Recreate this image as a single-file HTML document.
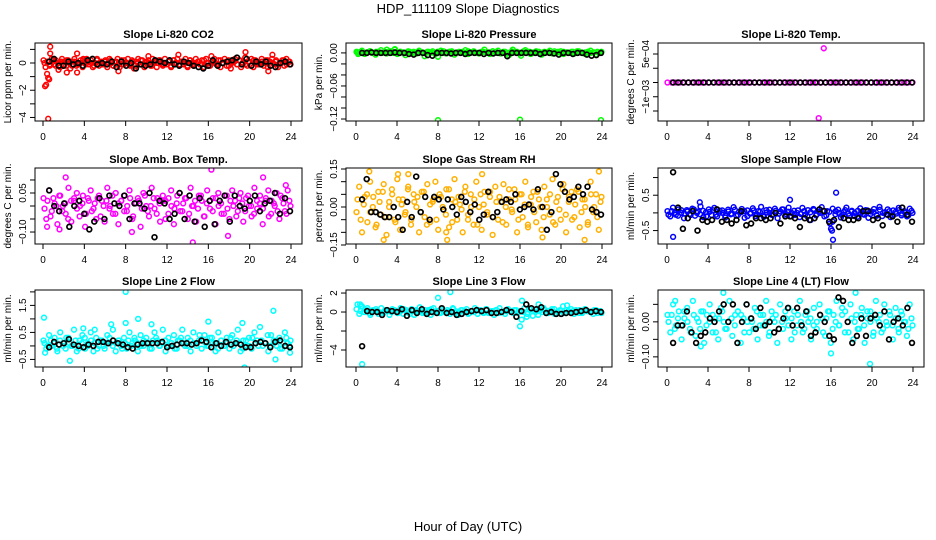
<!DOCTYPE html>
<html><head><meta charset="utf-8"><title>HDP_111109 Slope Diagnostics</title>
<style>
html,body{margin:0;padding:0;background:#fff;}
svg{display:block;font-family:"Liberation Sans",Arial,sans-serif;}
</style></head>
<body>
<svg id="chart" width="936" height="540" viewBox="0 0 936 540" xmlns="http://www.w3.org/2000/svg">
<text x="468" y="13" font-size="13" text-anchor="middle">HDP_111109  Slope Diagnostics</text>
<text x="468" y="531" font-size="13" text-anchor="middle">Hour of Day (UTC)</text>
</svg>
<script>
const xTicks=[0,4,8,12,16,20,24];

const co2Band=[0.2,-0.3,0.1,-0.2,0.3,-0.1,0.2,0.0,-0.3,0.3,0.1,-0.2,0.2,-0.4,0.1,0.3,-0.2,0.0,0.2,-0.3,0.1,0.3,-0.1,0.2,-0.3,0.0,0.3,-0.2,0.1,-0.1,0.2,-0.3,0.3,0.0,-0.2,0.1,0.3,-0.3,0.2,-0.1,0.0,0.3,-0.2,0.2,-0.4,0.1,0.3,-0.1,0.2,-0.3,0.0,0.2,-0.2,0.3,0.1,-0.3,0.2,0.0,-0.2,0.3,-0.1,0.1,-0.3,0.2,0.0,0.3,-0.2,0.1,-0.1,0.3,-0.3,0.2,0.0,-0.2,0.3,0.1,-0.1,0.2,-0.3,0.3,0.0,-0.2,0.1,0.3,-0.1,0.2,-0.3,0.0,0.3,-0.2,0.2,-0.4,0.1,0.3,-0.1,0.2,-0.3,0.0,0.4,-0.2,0.1,0.3,-0.3,0.2,-0.1,0.0,0.3,-0.2,0.2,-0.3,0.1,0.3,-0.1,0.2,-0.3,0.0,0.2,-0.2,0.3,0.1,-0.1];
const co2Band2=[0.0,0.1,-0.1,0.2,-0.2,0.0,0.1,-0.1,0.2,0.0,-0.2,0.1,-0.1,0.0,0.2,-0.1,0.1,0.0,-0.2,0.2,0.0,-0.1,0.1,0.0,0.2,-0.2,0.1,0.0,-0.1,0.2,0.0,-0.1,0.1,-0.2,0.0,0.2,-0.1,0.1,0.0,-0.2,0.1,0.0,0.2,-0.1,0.0,0.1,-0.2,0.2,0.0,-0.1,0.1,0.0,-0.2,0.2,-0.1,0.0,0.1,-0.1,0.2,0.0,-0.2,0.1,0.0,-0.1,0.2,0.0,0.1,-0.2,0.0,0.1,-0.1,0.2,0.0,-0.1,0.1,-0.2,0.2,0.0,-0.1,0.1,0.0,0.2,-0.2,0.0,0.1,-0.1,0.0,0.2,-0.1,0.1];
const co2Black=[0.1,0.3,-0.2,-0.2,0.1,-0.1,0.0,-0.2,0.2,0.3,-0.1,0.0,-0.1,0.1,-0.3,0.1,-0.2,0.0,-0.4,-0.1,-0.2,-0.1,0.2,0.1,0.0,0.2,-0.1,-0.2,0.1,0.0,-0.2,-0.3,-0.4,-0.2,0.2,-0.2,0.0,0.1,0.2,0.4,-0.1,0.3,-0.2,0.1,-0.1,0.1,-0.2,-0.3,0.0,0.1,-0.1];
const co2OutHours=[0.2,0.3,0.4,0.5,0.6,0.7,0.7,0.5,3.3,3.3,2.3,7.3,10.2,19.6,22.2,16.3,21.8,1.5,3.9,13.1];
const co2OutVals=[-1.7,-1.6,-0.8,-1.1,-1.2,1.2,0.7,-4.1,0.7,-0.7,-0.7,-0.6,0.5,0.8,0.6,0.5,-0.6,-0.5,0.3,0.6];

const presBand=[0.002,0.000,0.004,-0.002,0.001,0.003,0.000,-0.003,0.002,0.005,0.001,-0.001,0.003,0.000,0.006,-0.002,0.002,0.001,-0.004,0.003,0.000,0.002,-0.001,0.004,0.001,-0.006,0.002,0.000,0.003,-0.002,0.001,0.004,0.000,-0.001,0.002,0.003,-0.003,0.001,0.000,0.002,0.005,-0.002,0.001,0.003,0.000,-0.001,0.002,0.006,0.001,-0.002,0.003,0.000,0.004,-0.001,0.002,0.000,-0.004,0.003,0.001,0.002,-0.001,0.000,0.005,0.002,-0.002,0.001,0.003,0.000,-0.003,0.002,0.001,0.004,-0.001,0.000,0.002,0.003,-0.002,0.001,0.000,0.002,-0.001,0.003,0.001,0.000,-0.002,0.002,0.004,0.001,-0.003,0.000,0.002];
const presBand2=[0.001,0.002,0.000,0.001,0.003,0.000,0.002,0.001,0.000,0.002,0.001,0.003,0.000,0.001,0.002,0.000,0.001,0.002,0.000,0.001,0.003,0.001,0.000,0.002,0.001,0.000,0.002,0.001,0.003,0.000,0.002,0.001,0.000,0.002,0.001,0.000,0.003,0.001,0.002,0.000,0.001,0.002,0.000,0.001,0.003,0.002,0.000,0.001,0.002,0.000,0.001,0.002,0.001,0.000,0.003,0.001,0.002,0.000,0.001,0.002,0.000,0.001,0.002,0.000,0.003,0.001,0.000,0.002,0.001,0.000,0.002,0.001,0.003,0.000,0.001,0.002,0.000,0.001,0.002,0.001];
const presBlack=[0.000,0.000,0.001,0.000,0.000,0.000,0.000,0.001,0.000,0.000,-0.002,-0.003,0.000,0.000,-0.004,-0.005,0.000,0.000,0.000,-0.001,0.000,0.000,-0.002,0.000,0.000,0.000,-0.002,0.000,-0.001,0.000,0.000,-0.006,0.000,0.000,0.000,0.000,0.000,0.000,-0.002,0.000,0.000,-0.001,-0.003,0.000,0.000,-0.002,0.000,0.000,-0.003,-0.005,-0.004,0.000];
const presOutHours=[8.0,16.0,23.9,8.0,16.1,0.2,3.0,3.8,15.3];
const presOutVals=[-0.122,-0.121,-0.122,-0.007,-0.005,-0.002,0.006,0.007,0.006];

const tempBand=[-0.0005,-0.0005,-0.0005,-0.0005,-0.0005,-0.0005,-0.0005,-0.0005,-0.0005,-0.0005,-0.0005,-0.0005,-0.0005,-0.0005,-0.0005,-0.0005,-0.0005,-0.0005,-0.0005,-0.0005,-0.0005,-0.0005,-0.0005,-0.0005,-0.0005,-0.0005,-0.0005,-0.0005,-0.0005,-0.0005,-0.0005,-0.0005,-0.0005,-0.0005,-0.0005,-0.0005,-0.0005,-0.0005,-0.0005,-0.0005,-0.0005,-0.0005,-0.0005,-0.0005,-0.0005,-0.0005,-0.0005,-0.0005,-0.0005,-0.0005,-0.0005,-0.0005,-0.0005,-0.0005,-0.0005,-0.0005,-0.0005,-0.0005,-0.0005,-0.0005];
const tempBand2=[];
const tempBlack=[-0.0005,-0.0005,-0.0005,-0.0005,-0.0005,-0.0005,-0.0005,-0.0005,-0.0005,-0.0005,-0.0005,-0.0005,-0.0005,-0.0005,-0.0005,-0.0005,-0.0005,-0.0005,-0.0005,-0.0005,-0.0005,-0.0005,-0.0005,-0.0005,-0.0005,-0.0005,-0.0005,-0.0005,-0.0005,-0.0005,-0.0005,-0.0005,-0.0005,-0.0005,-0.0005,-0.0005,-0.0005,-0.0005,-0.0005,-0.0005,-0.0005,-0.0005,-0.0005,-0.0005,-0.0005,-0.0005,-0.0005,-0.0005];
const tempOutHours=[15.3,14.8];
const tempOutVals=[0.0007,-0.00175];

const ambBand=[0.03,-0.05,0.06,-0.02,0.01,-0.07,0.04,0.00,-0.03,0.07,-0.06,0.02,0.05,-0.04,0.01,-0.08,0.03,0.06,-0.01,-0.05,0.04,0.02,-0.06,0.07,0.00,-0.03,0.05,-0.07,0.02,0.04,-0.02,0.06,-0.05,0.01,0.03,-0.08,0.05,0.00,-0.04,0.07,-0.01,0.03,-0.06,0.04,0.02,-0.03,0.06,-0.07,0.01,0.05,-0.02,0.03,-0.05,0.07,0.00,-0.06,0.04,0.02,-0.04,0.06,-0.01,0.03,-0.07,0.05,0.01,-0.03,0.04,-0.05,0.06,0.02,-0.02,0.05,-0.06,0.03,0.00,-0.04,0.07,-0.01,0.04,-0.07,0.02,0.06,-0.03,0.01,0.05,-0.05,0.03,-0.02,0.06,0.00];
const ambBand2=[-0.01,0.02,-0.04,0.03,0.00,0.04,-0.02,0.01,-0.05,0.02,0.03,-0.01,0.00,0.04,-0.03,0.02,-0.02,0.01,0.03,-0.04,0.00,0.02,-0.01,0.04,-0.03,0.01,0.02,-0.02,0.00,0.03,-0.04,0.01,0.02,-0.01,0.04,-0.02,0.00,0.03,-0.03,0.01,0.02,-0.05,0.03,0.00,-0.01,0.04,-0.02,0.01,0.03,-0.03,0.00,0.02,-0.01,0.04,-0.04,0.01,0.02,-0.02,0.03,0.00,-0.03,0.04,-0.01,0.02,0.00,-0.04,0.03,0.01,-0.02,0.04,0.00,-0.03,0.02,0.01,-0.01,0.03,-0.04,0.02,0.00,-0.02,0.04,0.01,-0.03,0.02];
const ambBlack=[0.06,0.00,-0.02,0.01,-0.08,0.00,0.02,-0.03,-0.09,-0.06,0.03,-0.05,0.04,0.01,0.00,0.04,-0.05,0.01,0.01,-0.01,0.05,-0.12,0.02,0.01,-0.05,-0.03,0.05,-0.05,0.04,-0.06,0.03,-0.08,0.02,-0.07,0.02,0.04,-0.06,0.04,0.00,-0.01,0.02,0.04,-0.02,0.01,0.02,0.05,-0.03,0.03,-0.02];
const ambOutHours=[16.3,14.5,21.3,2.2,8.6,17.9,0.4,1.6,23.5];
const ambOutVals=[0.14,-0.14,0.11,0.11,-0.10,-0.115,-0.08,-0.09,0.08];

const rhBand=[-0.02,0.08,-0.1,0.04,-0.06,0.1,0.0,-0.08,0.06,-0.03,0.09,-0.11,0.02,0.07,-0.05,0.11,-0.09,0.03,-0.02,0.08,-0.07,0.05,0.0,-0.1,0.06,-0.04,0.09,-0.06,0.02,0.1,-0.09,0.04,-0.01,0.07,-0.08,0.03,0.11,-0.05,0.01,-0.1,0.08,-0.03,0.05,-0.07,0.1,0.0,-0.09,0.06,-0.02,0.04,-0.11,0.08,-0.05,0.02,0.09,-0.07,0.03,-0.01,0.07,-0.1,0.05,-0.04,0.1,-0.08,0.01,0.06,-0.06,0.03,-0.09,0.08,0.0,-0.03,0.11,-0.07,0.04,-0.05,0.09,-0.1,0.02,0.06,-0.04,0.07,-0.08,0.03,0.0,-0.06,0.1,-0.02,0.05,-0.09,0.04];
const rhBand2=[0.03,-0.05,0.01,0.05,-0.02,0.04,-0.07,0.02,0.06,-0.04,0.0,0.05,-0.06,0.03,0.01,-0.03,0.07,-0.05,0.02,0.04,-0.02,0.06,-0.07,0.01,0.03,-0.05,0.05,0.0,-0.03,0.07,-0.06,0.02,0.04,-0.01,0.06,-0.05,0.0,0.03,-0.07,0.05,0.01,-0.03,0.06,-0.04,0.02,0.04,-0.06,0.0,0.07,-0.02,0.03,-0.05,0.05,0.01,-0.07,0.04,-0.02,0.06,0.0,-0.04,0.03,0.05,-0.06,0.02,-0.01,0.07,-0.03,0.04,-0.05,0.01,0.06,-0.02,0.03,-0.07,0.05,0.0,-0.04,0.02];
const rhBlack=[0.03,0.11,-0.02,-0.02,-0.03,-0.04,-0.04,0.00,-0.04,-0.09,0.02,-0.04,0.12,-0.02,0.04,-0.05,0.04,0.03,-0.01,0.03,0.00,-0.03,0.04,0.02,-0.02,0.01,-0.05,-0.03,0.06,-0.04,-0.02,0.02,0.03,0.02,0.05,-0.01,0.00,0.01,-0.01,0.07,0.00,-0.09,-0.02,0.13,0.09,0.06,0.03,0.04,0.08,0.05,0.08,-0.01,-0.02,-0.03];
const rhOutHours=[1.3,4.1,5.1,2.7,8.8,8.9,18.2,22.3,23.7,12.3];
const rhOutVals=[0.14,0.13,0.13,-0.13,-0.10,-0.13,-0.12,-0.13,0.14,0.13];

const flowBand=[0.05,-0.1,0.15,-0.05,0.1,0.0,-0.15,0.08,-0.03,0.12,-0.08,0.04,0.18,-0.12,0.02,0.1,-0.06,0.14,-0.1,0.06,0.0,-0.13,0.09,-0.04,0.16,-0.08,0.03,0.11,-0.14,0.07,-0.02,0.13,-0.09,0.05,0.17,-0.11,0.01,0.09,-0.06,0.12,-0.15,0.04,0.1,-0.03,0.15,-0.1,0.06,0.0,-0.12,0.14,-0.05,0.08,-0.2,0.11,-0.07,0.03,0.16,-0.1,0.05,-0.3,0.12,-0.04,0.09,-0.13,0.02,0.15,-0.08,0.06,0.0,-0.11,0.13,-0.03,0.08,-0.14,0.04,0.11,-0.06,0.17,-0.09,0.02,0.1,-0.12,0.07,-0.02,0.14,-0.07,0.05,-0.1,0.12,0.0];
const flowBand2=[-0.05,0.05,0.0,-0.08,0.08,-0.02,0.04,-0.06,0.1,0.0,-0.04,0.06,-0.1,0.03,0.08,-0.05,0.0,0.07,-0.08,0.04,-0.02,0.09,-0.06,0.02,0.05,-0.09,0.0,0.07,-0.04,0.03,-0.07,0.08,0.0,-0.05,0.06,-0.02,0.1,-0.08,0.03,0.0,-0.06,0.07,-0.03,0.05,-0.1,0.02,0.08,-0.04,0.0,0.06,-0.07,0.03,-0.25,0.05,0.0,-0.06,0.08,-0.02,0.04,-0.09,0.06,0.0,-0.05,0.07,-0.03,0.02,-0.08,0.09,0.0,-0.04,0.05,-0.06,0.03,0.08,-0.02,0.0,-0.07,0.06];
const flowBlack=[1.15,0.15,-0.45,-0.15,0.05,-0.5,-0.2,-0.25,-0.2,0.1,-0.25,-0.2,-0.3,-0.2,0.05,-0.35,-0.3,-0.15,-0.15,-0.2,-0.15,0.0,-0.3,-0.1,-0.1,-0.15,-0.4,-0.15,-0.2,-0.15,0.1,0.05,-0.25,-0.2,-0.4,-0.15,-0.2,-0.2,-0.15,0.05,0.05,-0.2,-0.15,-0.35,-0.05,-0.1,-0.25,0.15,-0.05,-0.25];
const flowOutHours=[0.6,16.2,16.5,12.0,3.2,16.0,16.1];
const flowOutVals=[-0.68,-0.76,0.57,0.37,0.3,-0.45,-0.5];

const l2Band=[0.2,-0.1,0.4,0.0,0.3,-0.2,0.5,0.1,-0.1,0.3,0.0,0.6,-0.2,0.2,0.4,-0.1,0.1,0.5,-0.2,0.3,0.0,0.2,-0.1,0.4,0.1,0.6,-0.2,0.2,0.0,0.3,-0.1,0.5,0.1,0.2,-0.2,0.4,0.0,0.3,0.1,-0.1,0.5,0.2,0.0,0.6,-0.2,0.3,0.1,0.4,-0.1,0.2,0.6,0.0,0.3,-0.2,0.5,0.1,0.2,-0.1,0.4,0.0,0.3,0.1,-0.2,0.5,0.2,0.0,0.3,-0.1,0.4,0.1,0.6,-0.2,0.2,0.0,0.3,-0.1,0.5,0.2,0.7,0.0,0.1,-0.2,0.4,0.2,0.0,0.3,-0.1,0.5,0.1,0.2];
const l2Band2=[0.1,0.0,0.2,0.1,-0.1,0.2,0.0,0.3,0.1,0.0,0.2,-0.1,0.1,0.3,0.0,0.2,0.1,-0.1,0.2,0.0,0.1,0.3,0.0,0.1,0.2,-0.1,0.1,0.2,0.0,0.3,0.1,0.0,0.2,0.1,-0.1,0.2,0.3,0.0,0.1,0.2,0.0,0.1,-0.1,0.2,0.3,0.1,0.0,0.2,0.1,0.0,0.4,0.2,0.1,0.0,0.3,0.1,-0.1,0.2,0.0,0.1,0.3,0.0,0.2,0.1,-0.1,0.2,0.0,0.3,0.1,0.0,0.2,0.1,0.4,0.0,0.1,0.2,-0.1,0.1,0.3,0.0];
const l2Black=[-0.05,0.15,0.05,0.1,0.25,0.05,0.0,-0.05,0.05,0.0,0.15,0.15,0.1,0.2,0.1,0.05,-0.05,-0.1,0.05,0.1,0.1,0.1,0.1,0.15,-0.05,0.0,0.05,0.1,0.1,0.05,0.1,0.2,0.15,-0.05,0.1,0.0,0.15,0.05,0.1,0.05,-0.05,-0.05,0.1,0.15,0.1,-0.05,0.15,0.2,0.0,-0.05];
const l2OutHours=[0.1,8.0,8.0,9.2,16.0,22.3,19.5,2.6,22.5,10.5,5.0,6.6,3.9,19.3,0.2,23.9];
const l2OutVals=[1.05,2.0,0.85,1.0,0.9,1.3,-0.8,-0.55,-0.5,0.8,0.6,0.8,0.65,0.85,-0.25,-0.25];

const l3Band=[0.3,-0.2,0.6,0.0,0.4,-0.3,0.2,0.1,-0.2,0.4,0.0,0.2,-0.3,0.3,0.1,-0.1,0.4,-0.2,0.2,0.0,0.3,-0.3,0.1,0.5,-0.1,0.2,0.0,-0.3,0.4,0.1,-0.1,0.3,0.0,0.2,-0.2,0.4,0.1,-0.3,0.2,0.0,0.3,-0.1,0.1,0.4,-0.2,0.2,0.0,0.3,-0.1,0.1,-0.3,0.2,0.4,0.0,-0.2,0.3,0.1,-0.1,0.2,0.0,-0.8,0.4,-0.2,0.3,0.1,0.0,-0.3,0.2,0.4,-0.1,0.1,0.3,-0.2,0.0,0.2,0.6,-0.1,0.1,0.3,-0.2,0.0,0.2,-0.1,0.3,0.1,0.0,-0.2,0.2,0.1,-0.1];
const l3Band2=[0.8,0.1,0.0,0.2,-0.1,0.1,0.3,0.0,-0.1,0.2,0.1,0.0,0.2,-0.1,0.1,0.3,0.0,-0.2,0.1,0.2,0.0,0.1,-0.1,0.2,0.3,0.0,0.1,-0.1,0.2,0.0,0.1,0.3,-0.1,0.0,0.2,0.1,-0.2,0.1,0.0,0.2,0.1,-0.1,0.3,0.0,0.1,0.2,-0.1,0.0,0.1,0.3,0.0,0.2,-0.1,0.1,0.0,-0.5,0.3,-0.4,0.2,0.1,0.0,0.2,-0.1,0.1,0.3,0.0,0.1,-0.1,0.2,0.0,0.1,0.2,-0.1,0.0,0.3,0.1,0.0,0.2,-0.1,0.1];
const l3Black=[-3.6,0.1,0.0,0.0,-0.3,0.2,0.1,0.0,0.3,-0.4,0.2,-0.1,0.3,-0.2,0.0,-0.1,0.4,-0.1,0.0,-0.3,-0.2,0.0,0.1,0.2,0.1,0.2,-0.1,-0.1,0.0,0.2,0.0,-0.5,0.1,0.8,0.4,0.3,0.5,-0.1,0.0,-0.2,-0.2,-0.1,-0.1,0.0,0.1,0.2,0.0,0.1,0.0];
const l3OutHours=[0.6,8.0,9.2,16.0,16.2,0.4,0.5,17.8,20.6];
const l3OutVals=[-5.5,1.5,2.1,-1.5,1.2,0.8,0.6,0.8,0.7];

const l4Band=[0.02,-0.03,0.05,-0.01,0.03,-0.05,0.01,0.04,-0.02,0.06,-0.04,0.00,0.03,-0.06,0.02,0.05,-0.03,0.01,-0.05,0.04,0.00,-0.02,0.06,-0.04,0.02,0.03,-0.06,0.01,0.05,-0.03,0.00,0.04,-0.05,0.02,-0.01,0.06,-0.04,0.03,0.00,-0.06,0.05,-0.02,0.01,0.04,-0.05,0.03,-0.01,0.06,-0.03,0.02,0.00,-0.05,0.04,-0.02,0.05,0.01,-0.04,0.03,-0.06,0.02,0.06,-0.01,0.04,-0.03,0.00,0.05,-0.05,0.02,-0.02,0.04,-0.06,0.01,0.03,-0.04,0.06,0.00,-0.03,0.05,-0.01,0.02,-0.05,0.04,-0.02,0.03,0.00,-0.04,0.05,-0.01];
const l4Band2=[0.00,0.02,-0.02,0.01,-0.01,0.03,0.00,-0.03,0.02,0.01,-0.02,0.03,-0.01,0.00,0.02,-0.03,0.01,0.03,-0.02,0.00,0.01,-0.01,0.03,0.02,-0.03,0.00,0.01,-0.02,0.03,-0.01,0.02,0.00,-0.03,0.01,0.02,-0.02,0.00,0.03,-0.01,0.01,-0.03,0.02,0.00,-0.02,0.03,0.01,-0.01,0.00,0.02,-0.03,0.01,0.03,-0.02,0.00,-0.01,0.02,0.03,-0.03,0.01,0.00,-0.02,0.02,-0.01,0.03,0.00,-0.03,0.01,0.02,-0.02,0.00,0.03,-0.01,0.01,-0.03,0.02,0.00,-0.02,0.01];
const l4Black=[-0.06,-0.01,-0.01,0.03,-0.03,-0.06,-0.04,-0.03,0.01,0.00,0.03,0.05,0.00,0.05,-0.06,0.00,0.05,0.01,-0.02,0.04,-0.01,0.00,-0.03,-0.02,0.01,0.04,-0.01,0.04,-0.01,0.03,-0.04,-0.03,0.02,0.00,-0.04,-0.05,0.07,0.06,0.00,-0.06,-0.04,0.01,-0.04,0.01,0.02,-0.01,0.03,-0.05,0.00,0.01,-0.01,0.04,-0.06];
const l4OutHours=[5.5,18.4,19.8,16.0,3.3,0.8];
const l4OutVals=[0.083,0.083,-0.12,-0.09,-0.07,0.06];

/* layout (not data) */
const colBox=[{L:35,R:302,x0:43,x1:291},{L:346,R:612,x0:356,x1:602},{L:658,R:924,x0:667,x1:913}];
const rowBox=[{T:43,B:121},{T:168,B:244},{T:290,B:367}];

const panels=[
 {name:'co2',title:'Slope Li-820 CO2',ylab:'Licor ppm per min.',col:'#ff0000',ylim:[-4.26,1.47],ticks:[-4,-3,-2,-1,0,1],labels:['\u22124','','\u22122','','0',''],band:co2Band,band2:co2Band2,black:co2Black,oh:co2OutHours,ov:co2OutVals},
 {name:'pressure',title:'Slope Li-820 Pressure',ylab:'kPa per min.',col:'#00ff00',ylim:[-0.1236,0.018],ticks:[0,-0.02,-0.04,-0.06,-0.08,-0.10,-0.12],labels:['0.00','','','\u22120.06','','','\u22120.12'],band:presBand,band2:presBand2,black:presBlack,oh:presOutHours,ov:presOutVals},
 {name:'temp',title:'Slope Li-820 Temp.',ylab:'degrees C per min.',col:'#ff00ff',ylim:[-0.001851,0.000886],ticks:[0.0005,0,-0.0005,-0.001,-0.0015],labels:['5e\u221204','','','\u22121e\u221203',''],band:tempBand,band2:tempBand2,black:tempBlack,oh:tempOutHours,ov:tempOutVals},
 {name:'amb-box-temp',title:'Slope Amb. Box Temp.',ylab:'degrees C per min.',col:'#ff00ff',ylim:[-0.146,0.146],ticks:[0.10,0.05,0,-0.05,-0.10],labels:['','0.05','','','\u22120.10'],band:ambBand,band2:ambBand2,black:ambBlack,oh:ambOutHours,ov:ambOutVals},
 {name:'gas-stream-rh',title:'Slope Gas Stream RH',ylab:'percent per min.',col:'#ffb000',ylim:[-0.146,0.154],ticks:[0.15,0.10,0.05,0,-0.05,-0.10,-0.15],labels:['0.15','','','0.00','','','\u22120.15'],band:rhBand,band2:rhBand2,black:rhBlack,oh:rhOutHours,ov:rhOutVals},
 {name:'sample-flow',title:'Slope Sample Flow',ylab:'ml/min per min.',col:'#0000ff',ylim:[-0.88,1.27],ticks:[1.0,0.5,0,-0.5],labels:['','0.5','','\u22120.5'],band:flowBand,band2:flowBand2,black:flowBlack,oh:flowOutHours,ov:flowOutVals},
 {name:'line2-flow',title:'Slope Line 2 Flow',ylab:'ml/min per min.',col:'#00ffff',ylim:[-0.78,2.07],ticks:[2,1.5,1,0.5,0,-0.5],labels:['','1.5','','0.5','','\u22120.5'],band:l2Band,band2:l2Band2,black:l2Black,oh:l2OutHours,ov:l2OutVals},
 {name:'line3-flow',title:'Slope Line 3 Flow',ylab:'ml/min per min.',col:'#00ffff',ylim:[-5.79,2.32],ticks:[2,0,-2,-4],labels:['2','0','','\u22124'],band:l3Band,band2:l3Band2,black:l3Black,oh:l3OutHours,ov:l3OutVals},
 {name:'line4-flow',title:'Slope Line 4 (LT) Flow',ylab:'ml/min per min.',col:'#00ffff',ylim:[-0.129,0.091],ticks:[0.05,0,-0.05,-0.10],labels:['','0.00','','\u22120.10'],band:l4Band,band2:l4Band2,black:l4Black,oh:l4OutHours,ov:l4OutVals}
];

const NS='http://www.w3.org/2000/svg';
const svg=document.getElementById('chart');
function mk(tag,attrs,parent){const e=document.createElementNS(NS,tag);for(const k in attrs)e.setAttribute(k,attrs[k]);(parent||svg).appendChild(e);return e;}

panels.forEach((p,i)=>{
  const c=colBox[i%3], r=rowBox[Math.floor(i/3)];
  const xs=h=>c.x0+(h/24)*(c.x1-c.x0);
  const ys=v=>r.B-(v-p.ylim[0])/(p.ylim[1]-p.ylim[0])*(r.B-r.T);
  const g=mk('g',{});
  
  
  const clip=mk('clipPath',{id:'clip'+i},g);
  mk('rect',{x:c.L,y:r.T,width:c.R-c.L,height:r.B-r.T},clip);
  const pts=mk('g',{'clip-path':'url(#clip'+i+')'},g);
  
  
  function dot(h,v,col,w,rad,nm){
    const e=mk('circle',{cx:xs(h).toFixed(1),cy:ys(v).toFixed(1),r:rad,fill:'none',stroke:col,'stroke-width':w},pts);
    
    
    return e;
  }
  const nb=p.band.length;
  p.band.forEach((v,k)=>{dot(0.05+k*(23.9/(nb-1)),v,p.col,1.5,2.4,p.name+'-point');});
  const nb2=p.band2.length;
  p.band2.forEach((v,k)=>{dot(0.15+k*(23.7/Math.max(1,nb2-1)),v,p.col,1.5,2.4,p.name+'-point');});
  p.oh.forEach((h,k)=>{dot(h,p.ov[k],p.col,1.5,2.4,p.name+'-outlier');});
  const nk=p.black.length;
  p.black.forEach((v,k)=>{dot(0.6+k*(23.3/(nk-1)),v,'#000',1.7,2.4,p.name+'-summary-point');});
  const box=mk('rect',{x:c.L,y:r.T,width:c.R-c.L,height:r.B-r.T,fill:'none',stroke:'#000','stroke-width':1},g);
  
  
  const xa=mk('g',{},g);
  
  
  mk('line',{x1:xs(xTicks[0]),x2:xs(xTicks[xTicks.length-1]),y1:r.B,y2:r.B,stroke:'#000'},xa);
  xTicks.forEach(t=>{
    mk('line',{x1:xs(t),x2:xs(t),y1:r.B,y2:r.B+5,stroke:'#000'},xa);
    const tx=mk('text',{x:xs(t),y:r.B+19,'font-size':10,'text-anchor':'middle'},xa);
    tx.textContent=t;
    
    
  });
  const ya=mk('g',{},g);
  
  
  p.ticks.forEach((t,k)=>{
    const y=ys(t);
    mk('line',{x1:c.L-5,x2:c.L,y1:y,y2:y,stroke:'#000'},ya);
    if(p.labels[k]){
      const tx=mk('text',{x:0,y:0,'font-size':10,'text-anchor':'middle',transform:'translate('+(c.L-9)+','+y+') rotate(-90)'},ya);
      tx.textContent=p.labels[k];
      
      
    }
  });
  const yl=mk('text',{x:0,y:0,'font-size':10,'text-anchor':'middle',transform:'translate('+(c.L-24)+','+((r.T+r.B)/2)+') rotate(-90)'},g);
  yl.textContent=p.ylab;
  
  
  const tt=mk('text',{x:(c.L+c.R)/2,y:r.T-5,'font-size':11,'font-weight':'bold','text-anchor':'middle'},g);
  tt.textContent=p.title;
  
  
});
</script>
</body></html>
